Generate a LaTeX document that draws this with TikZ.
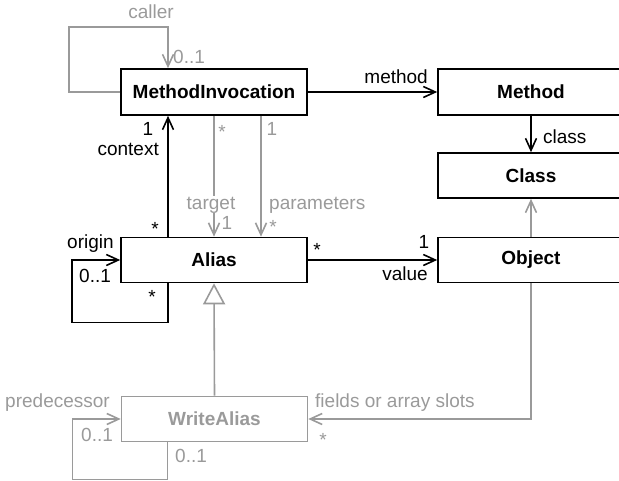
\documentclass[tikz,border=0pt]{standalone}
\usepackage{fontspec}
\setmainfont{Liberation Sans}
\usetikzlibrary{arrows.meta}
\definecolor{gr}{HTML}{9A9A9A}
\begin{document}
\begin{tikzpicture}[x=1pt,y=-1pt,
  box/.style={draw, line width=1.6pt, minimum width=186pt, minimum height=46pt, inner sep=0pt, font=\bfseries\fontsize{19}{22}\selectfont},
  gbox/.style={box, draw=gr, text=gr},
  lbl/.style={font=\fontsize{19}{22}\selectfont, inner sep=0pt, text height=13.5pt, text depth=0pt},
  glbl/.style={lbl, text=gr},
  blk/.style={line width=1.6pt, -{Straight Barb[length=12pt,width=11pt]}},
  gline/.style={line width=1.6pt, draw=gr},
  garr/.style={gline, -{Straight Barb[length=12pt,width=11pt]}},
  inh/.style={gline, -{Triangle[open,length=21pt,width=22pt]}}
]
\useasboundingbox (0,0) rectangle (619,480);
\clip (0,0) rectangle (619,480);
% boxes
\node[box] (MI) at (214,92) {MethodInvocation};
\node[box] (Method) at (531,92) {Method};
\node[box, minimum height=45pt] (Class) at (531,175.5) {Class};
\node[box, minimum height=45pt] (Alias) at (214,260) {Alias};
\node[box, minimum height=45pt] (Object) at (531,260) {Object};
\node[gbox, minimum height=45pt] (WA) at (214.5,419) {WriteAlias};
% caller loop
\draw[garr] (MI.west) -- ++(-51,0) -- ++(0,-65) -| ([xshift=-46pt]MI.north);
\node[glbl, anchor=base] (lcaller) at (151,18) {caller};
\node[glbl, anchor=base west] (lcallerm) at (173,63) {0..1};
% method
\draw[blk] (MI.east) -- (Method.west);
\node[lbl, anchor=base east] (lmethod) at (428,83) {method};
% class
\draw[blk] (Method.south) -- (Class.north);
\node[lbl, anchor=base west] (lclass) at (543,143) {class};
% object -> class
\draw[garr] (Object.north) -- (Class.south);
% context
\draw[blk] ([xshift=-46pt]Alias.north) -- ([xshift=-46pt]MI.south);
\node[lbl, anchor=base] (lctx1) at (148,135) {1};
\node[lbl, anchor=base east] (lctx) at (159,155) {context};
\node[lbl] (lctxs) at (155,229) {*};
% target
\draw[garr] (MI.south) -- (Alias.north);
\node[glbl, fill=white, inner xsep=1pt, text depth=4pt, anchor=base] (ltarget) at (211,209) {target};
\node[glbl] (ltgs) at (222,132) {*};
\node[glbl, anchor=base] (ltg1) at (227,229) {1};
% parameters
\draw[garr] ([xshift=47pt]MI.south) -- ([xshift=47pt]Alias.north);
\node[glbl, anchor=base] (lpar1) at (272,135) {1};
\node[glbl, anchor=base west] (lpar) at (269,209) {parameters};
\node[glbl] (lpars) at (273,227) {*};
% origin loop
\draw[blk] ([xshift=-46pt]Alias.south) |- ++(-96,39) |- (Alias.west);
\node[lbl, anchor=base west] (lorigin) at (67,248) {origin};
\node[lbl, anchor=base west] (loriginm) at (79,282) {0..1};
\node[lbl] (lorigins) at (152,297) {*};
% value
\draw[blk] (Alias.east) -- (Object.west);
\node[lbl] (lvals) at (317,250) {*};
\node[lbl, anchor=base] (lval1) at (424,248) {1};
\node[lbl, anchor=base east] (lval) at (428,280) {value};
% inheritance
\draw[inh] (WA.north) -- (Alias.south);
% fields
\draw[garr] (Object.south) |- (WA.east);
\node[glbl, anchor=base west] (lfields) at (315,407) {fields or array slots};
\node[glbl] (lfieldss) at (323,440) {*};
% predecessor loop
\draw[garr] ([xshift=-47pt]WA.south) |- ++(-95,37) |- (WA.west);
\node[glbl, anchor=base east] (lpred) at (110,407) {predecessor};
\node[glbl, anchor=base west] (lpredm) at (81,441) {0..1};
\node[glbl, anchor=base west] (lpredm2) at (175,462) {0..1};
\end{tikzpicture}
\end{document}
